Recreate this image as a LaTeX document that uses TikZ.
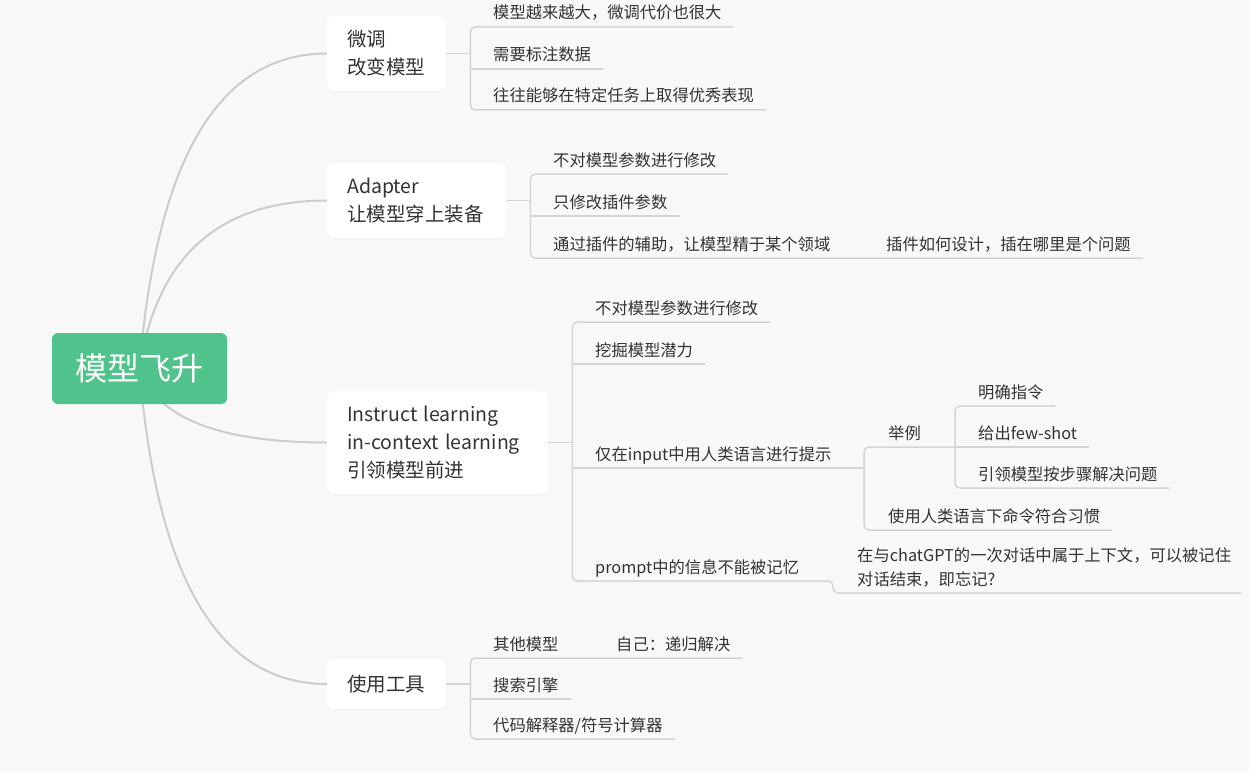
\documentclass[tikz,border=0pt]{standalone}
\usepackage{fontspec}
\setmainfont{Noto Sans CJK SC}
\usetikzlibrary{calc,shadows,backgrounds}
\definecolor{bg}{HTML}{F8F8F8}
\definecolor{rootg}{RGB}{80,195,140}
\definecolor{curvec}{HTML}{CCCCCC}
\definecolor{linec}{HTML}{D4D4D4}
\definecolor{txt}{HTML}{333333}
\newcommand\mkul[1]{%
  \coordinate (u#1) at ($(#1.base west)+(0,8)$);
  \coordinate (e#1) at ($(#1.base east)+(12,8)$);}
\begin{document}
\begin{tikzpicture}[x=1pt,y=-1pt,
  rootbox/.style={fill=rootg, rounded corners=6pt, minimum width=175pt, minimum height=71pt,
    text=white, font=\fontsize{32}{36}\selectfont, inner sep=0pt},
  branchbox/.style={fill=white, rounded corners=7pt, anchor=west, inner xsep=20pt, inner ysep=0pt,
    align=left, text=txt, font=\fontsize{19.5}{28}\selectfont,
    drop shadow={shadow xshift=0pt, shadow yshift=-1pt, opacity=0.06}},
  leaf/.style={anchor=base west, inner sep=0pt, text=txt, align=left,
    font=\fontsize{16.3}{24}\selectfont},
  curve/.style={draw=curvec, line width=2pt},
  spine/.style={draw=linec, line width=1.5pt, rounded corners=5pt},
]
\useasboundingbox (0,0) rectangle (1249,773);

% root and branches
\node[rootbox] (root) at (139.5,368.5) {模型飞升};
\node[branchbox, text width=79pt, minimum height=75pt] (b1) at (327,53.5) {微调\\改变模型};
\node[branchbox, text width=139pt, minimum height=75pt] (b2) at (327,200.5) {Adapter\\让模型穿上装备};
\node[branchbox, text width=181pt, minimum height=103pt] (b3) at (327,442.5) {Instruct learning\\in-context learning\\引领模型前进};
\node[branchbox, text width=79pt, minimum height=50pt] (b4) at (327,684) {使用工具};

\begin{scope}[on background layer]
  \fill[bg] (0,0) rectangle (1249,773);
  \foreach \b/\y in {b1/53.5, b2/200.5, b3/442.5, b4/684}{
    \draw[curve] (root.center) .. controls ($(root.center)!0.667!(165,\y)$)
      and ($(\b.west)!0.667!(165,\y)$) .. (\b.west);
  }
\end{scope}

% branch 1
\coordinate (s1) at ($(b1.east)+(24,0)$);
\node[leaf] (l11) at (493,19) {模型越来越大，微调代价也很大};
\node[leaf] (l12) at (493,61) {需要标注数据};
\node[leaf] (l13) at (493,102) {往往能够在特定任务上取得优秀表现};
\mkul{l11}\mkul{l12}\mkul{l13}
\draw[spine] (b1.east) -- (s1);
\draw[spine] (el11) -- (s1 |- ul11) -- (s1 |- ul13) -- (el13);
\draw[spine] (s1 |- ul12) -- (el12);

% branch 2
\coordinate (s2) at ($(b2.east)+(24,0)$);
\node[leaf] (l21) at (553,166) {不对模型参数进行修改};
\node[leaf] (l22) at (553,208) {只修改插件参数};
\node[leaf] (l23) at (553,250) {通过插件的辅助，让模型精于某个领域};
\node[leaf] (l23a) at (886,250) {插件如何设计，插在哪里是个问题};
\mkul{l21}\mkul{l22}\mkul{l23}\mkul{l23a}
\draw[spine] (b2.east) -- (s2);
\draw[spine] (el21) -- (s2 |- ul21) -- (s2 |- ul23) -- (el23a);
\draw[spine] (s2 |- ul22) -- (el22);

% branch 3
\coordinate (s3) at ($(b3.east)+(24,0)$);
\node[leaf] (l31) at (595,314) {不对模型参数进行修改};
\node[leaf] (l32) at (595,356) {挖掘模型潜力};
\node[leaf] (l33) at (595,460) {仅在input中用人类语言进行提示};
\node[leaf] (l34) at (595,573) {prompt中的信息不能被记忆};
\node[leaf] (l331) at (888,439) {举例};
\node[leaf] (l332) at (888,522) {使用人类语言下命令符合习惯};
\node[leaf] (l3311) at (978,398) {明确指令};
\node[leaf] (l3312) at (978,439) {给出few-shot};
\node[leaf] (l3313) at (978,480) {引领模型按步骤解决问题};
\node[leaf] (l341) at (857,585) {在与chatGPT的一次对话中属于上下文，可以被记住\\对话结束，即忘记?};
\mkul{l31}\mkul{l32}\mkul{l33}\mkul{l34}\mkul{l331}\mkul{l332}
\mkul{l3311}\mkul{l3312}\mkul{l3313}
\coordinate (ul341) at ($(l341.base west)+(0,8)$);
\coordinate (el341) at ($(l341.base west)+(384,8)$);
\coordinate (x341) at ($(l341.base west)+(-24,0)$);
\coordinate (s33) at ($(l331.base west)+(-24,0)$);
\coordinate (s333) at ($(l3311.base west)+(-23,0)$);
\draw[spine] (b3.east) -- (s3);
\draw[spine] (el31) -- (s3 |- ul31) -- (s3 |- ul34) -- (x341 |- ul34) -- (x341 |- ul341) -- (el341);
\draw[spine] (s3 |- ul32) -- (el32);
\draw[spine] (s3 |- ul33) -- (s33 |- ul33);
\draw[spine] (s333 |- ul331) -- (s33 |- ul331) -- (s33 |- ul332) -- (el332);
\draw[spine] (el3311) -- (s333 |- ul3311) -- (s333 |- ul3313) -- (el3313);
\draw[spine] (s333 |- ul3312) -- (el3312);

% branch 4
\coordinate (s4) at ($(b4.east)+(24,0)$);
\node[leaf] (l41) at (493,650) {其他模型};
\node[leaf] (l41a) at (616,650) {自己：递归解决};
\node[leaf] (l42) at (493,691) {搜索引擎};
\node[leaf] (l43) at (493,731) {代码解释器/符号计算器};
\mkul{l41}\mkul{l41a}\mkul{l42}\mkul{l43}
\draw[spine] (b4.east) -- (s4);
\draw[spine] (el41a) -- (s4 |- ul41) -- (s4 |- ul43) -- (el43);
\draw[spine] (s4 |- ul42) -- (el42);
\end{tikzpicture}
\end{document}
